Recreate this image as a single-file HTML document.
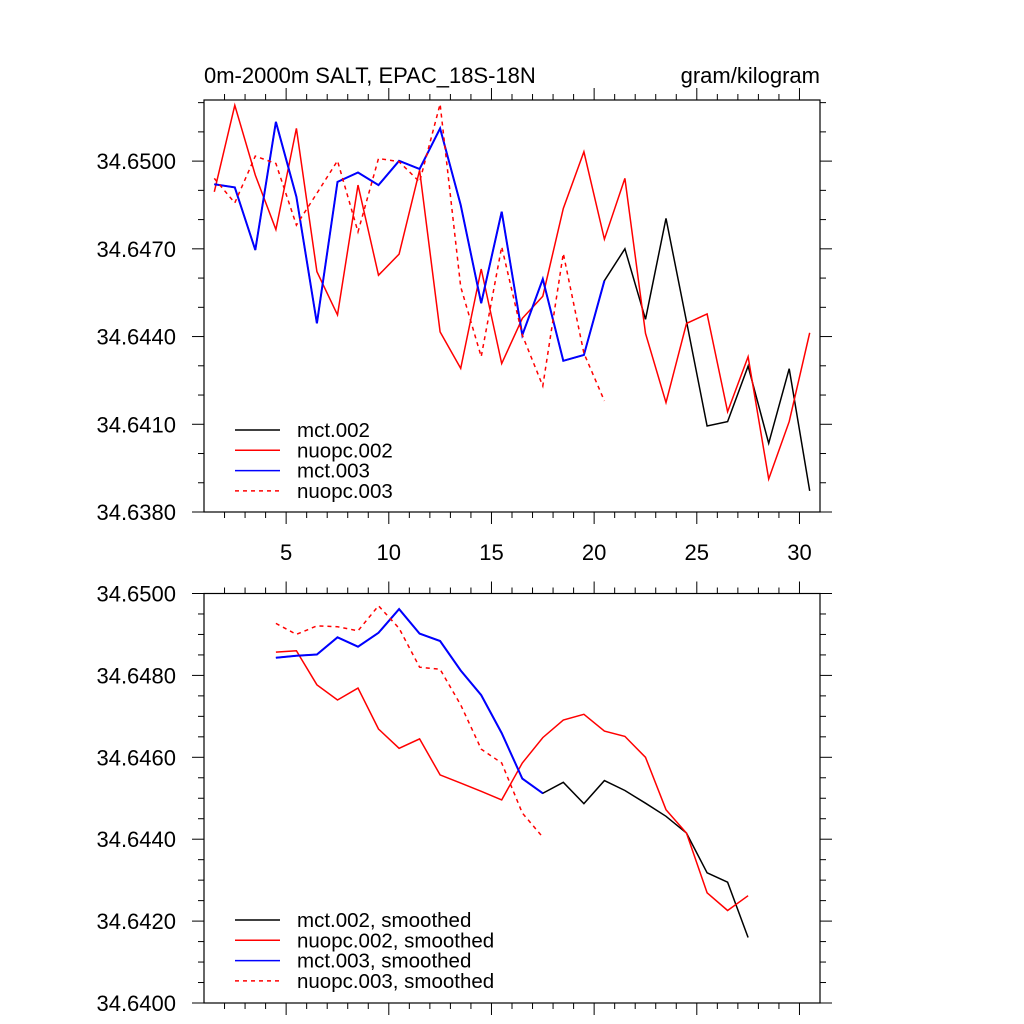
<!DOCTYPE html>
<html><head><meta charset="utf-8"><style>
html,body{margin:0;padding:0;background:#fff;}
svg{display:block;font-family:"Liberation Sans",sans-serif;}
</style></head><body>
<svg id="chart" width="1024" height="1024" viewBox="0 0 1024 1024"></svg>
<script>
// ---- Data (top panel, raw) ----
const topX0 = 1.5; // first x value, step 1
const mct002 = [34.64921,34.64910,34.64696,34.65134,34.64878,34.64445,34.64929,34.64961,34.64918,34.65001,34.64973,34.65112,34.64850,34.64514,34.64827,34.64405,34.64597,34.64317,34.64337,34.64591,34.64700,34.64459,34.64804,34.64452,34.64094,34.64109,34.64299,34.64035,34.64290,34.63872];
const nuopc002 = [34.64895,34.65191,34.64952,34.64766,34.65112,34.64622,34.64474,34.64918,34.64610,34.64682,34.64969,34.64416,34.64291,34.64631,34.64308,34.64462,34.64538,34.64838,34.65032,34.64733,34.64941,34.64411,34.64174,34.64445,34.64477,34.64143,34.64331,34.63913,34.64109,34.64413];
const mct003 = [34.64921,34.64910,34.64696,34.65134,34.64878,34.64445,34.64929,34.64961,34.64918,34.65001,34.64973,34.65112,34.64850,34.64514,34.64827,34.64405,34.64597,34.64317,34.64337,34.64591];
const nuopc003 = [34.64941,34.64857,34.65017,34.64992,34.64781,34.64890,34.65001,34.64758,34.65009,34.64998,34.64929,34.65195,34.64570,34.64331,34.64707,34.64405,34.64231,34.64684,34.64343,34.64180];
// ---- Data (bottom panel, smoothed) ----
const botX0 = 4.5;
const mct002s = [34.64843,34.64848,34.64851,34.64893,34.64870,34.64904,34.64962,34.64902,34.64884,34.64812,34.64752,34.64659,34.64548,34.64512,34.64539,34.64487,34.64543,34.64519,34.64488,34.64456,34.64415,34.64318,34.64295,34.64160];
const nuopc002s = [34.64857,34.64860,34.64777,34.64740,34.64769,34.64669,34.64622,34.64645,34.64557,34.64537,34.64517,34.64496,34.64586,34.64648,34.64691,34.64705,34.64664,34.64651,34.64600,34.64472,34.64415,34.64269,34.64226,34.64262];
const mct003s = [34.64843,34.64848,34.64851,34.64893,34.64870,34.64904,34.64962,34.64902,34.64884,34.64812,34.64752,34.64659,34.64548,34.64512];
const nuopc003s = [34.64927,34.64900,34.64921,34.64919,34.64909,34.64970,34.64915,34.64820,34.64815,34.64728,34.64620,34.64586,34.64464,34.64405];
// ---- Tick labels ----
const xTickLabels = ["5","10","15","20","25","30"];
const topYLabels = ["34.6380","34.6410","34.6440","34.6470","34.6500"];
const botYLabels = ["34.6400","34.6420","34.6440","34.6460","34.6480","34.6500"];
const topLegend = ["mct.002","nuopc.002","mct.003","nuopc.003"];
const botLegend = ["mct.002, smoothed","nuopc.002, smoothed","mct.003, smoothed","nuopc.003, smoothed"];

const svg = document.getElementById('chart');
const NS = 'http://www.w3.org/2000/svg';
function mk(tag, attrs, parent){
  const e = document.createElementNS(NS, tag);
  for (const k in attrs) e.setAttribute(k, attrs[k]);
  (parent||svg).appendChild(e);
  return e;
}
const L = 204, R = 820, XMIN = 1, XMAX = 31;
const xs = v => L + (v - XMIN) / (XMAX - XMIN) * (R - L);

function panel(name, top, bottom, ymin, ymax, yMajor, yMinor, yLabels, showX){
  const ys = v => bottom - (v - ymin) / (ymax - ymin) * (bottom - top);
  const g = mk('g', {});
  
  
  const frame = mk('rect', {x:L, y:top, width:R-L, height:bottom-top, fill:'none', stroke:'#000', 'stroke-width':1.2}, g);
  
  
  for (let v = 2; v <= 30; v++){
    const major = v % 5 === 0, len = major ? 12 : 6, x = xs(v);
    mk('line', {x1:x, x2:x, y1:top, y2:top-len, stroke:'#000', 'stroke-width':1}, g);
    mk('line', {x1:x, x2:x, y1:bottom, y2:bottom+len, stroke:'#000', 'stroke-width':1}, g);
  }
  if (showX){
    xTickLabels.forEach(t => {
      const tx = mk('text', {x:xs(+t), y:bottom+48, 'font-size':22, 'text-anchor':'middle'}, g);
      tx.textContent = t;
      
      
    });
  }
  const n = Math.round((ymax - ymin) / yMinor);
  for (let i = 0; i <= n + 2; i++){
    const v = ymin + i * yMinor;
    if (v > ymax + 1e-9) break;
    const major = Math.abs(((v - ymin) / yMajor) - Math.round((v - ymin) / yMajor)) < 1e-6;
    const len = major ? 12 : 6, y = ys(v);
    mk('line', {x1:L, x2:L-len, y1:y, y2:y, stroke:'#000', 'stroke-width':1}, g);
    mk('line', {x1:R, x2:R+len, y1:y, y2:y, stroke:'#000', 'stroke-width':1}, g);
  }
  yLabels.forEach(t => {
    const tx = mk('text', {x:176, y:ys(+t)+8, 'font-size':22, 'text-anchor':'end'}, g);
    tx.textContent = t;
    
    
  });
  return ys;
}
function series(name, arr, x0, ys, color, dash, width){
  const pts = arr.map((v,i) => xs(x0 + i).toFixed(1) + ',' + ys(v).toFixed(1)).join(' ');
  const p = mk('polyline', {points:pts, fill:'none', stroke:color, 'stroke-width':width, 'stroke-dasharray':dash||'none', 'stroke-linejoin':'miter'});
  
  
}
function legend(name, labels, y0, colors, dashes){
  const g = mk('g', {});
  
  
  labels.forEach((t,i) => {
    const y = y0 + i * 20.3;
    const ln = mk('line', {x1:235, x2:280, y1:y, y2:y, stroke:colors[i], 'stroke-width':1.5, 'stroke-dasharray':dashes[i]||'none'}, g);
    
    
    const tx = mk('text', {x:297, y:y+7, 'font-size':20.5}, g);
    tx.textContent = t;
    
    
  });
}
const colors = ['#000','#f00','#00f','#f00'];
const dashes = [null,null,null,'4,4'];

const ysT = panel('top-panel', 100, 512, 34.638, 34.65209, 0.003, 0.001, topYLabels, true);
series('line-mct002', mct002, topX0, ysT, '#000', null, 1.5);
series('line-nuopc002', nuopc002, topX0, ysT, '#f00', null, 1.5);
series('line-mct003', mct003, topX0, ysT, '#00f', null, 2);
series('line-nuopc003', nuopc003, topX0, ysT, '#f00', '4,4', 1.5);
legend('top-legend', topLegend, 430, colors, dashes);
const t1 = mk('text', {x:204, y:83, 'font-size':22});
t1.textContent = '0m-2000m SALT, EPAC_18S-18N';


const t2 = mk('text', {x:820, y:83, 'font-size':22, 'text-anchor':'end'});
t2.textContent = 'gram/kilogram';



const ysB = panel('bottom-panel', 593.5, 1003, 34.640, 34.650, 0.002, 0.0005, botYLabels, false);
series('line-mct002-smoothed', mct002s, botX0, ysB, '#000', null, 1.5);
series('line-nuopc002-smoothed', nuopc002s, botX0, ysB, '#f00', null, 1.5);
series('line-mct003-smoothed', mct003s, botX0, ysB, '#00f', null, 2);
series('line-nuopc003-smoothed', nuopc003s, botX0, ysB, '#f00', '4,4', 1.5);
legend('bottom-legend', botLegend, 920, colors, dashes);
</script>
</body></html>
